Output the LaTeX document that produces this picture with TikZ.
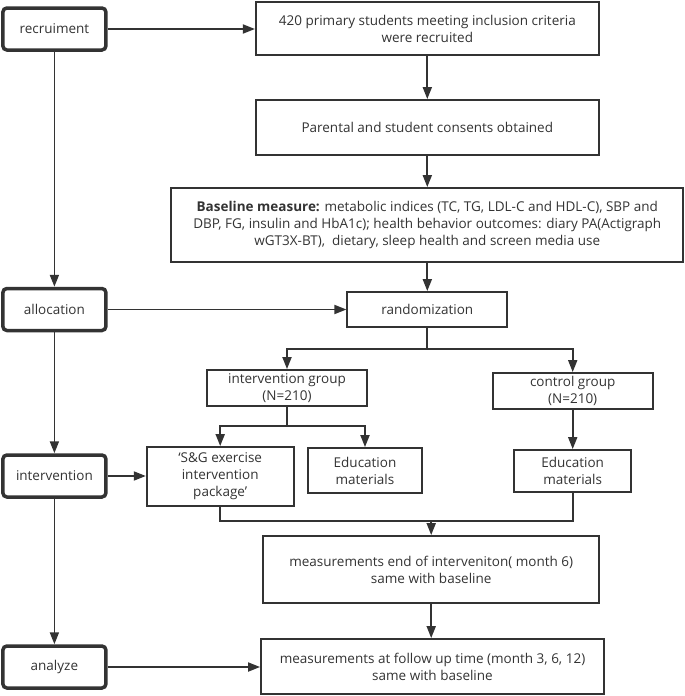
\documentclass[tikz,border=0pt]{standalone}
\usepackage{fontspec}
\setmainfont{Open Sans}
\usetikzlibrary{arrows.meta}
\definecolor{ink}{HTML}{333333}

\begin{document}
\begin{tikzpicture}[x=1pt, y=-1pt,
        every node/.style={text=ink, font=\fontsize{13.5}{17}\selectfont, align=center, inner sep=0pt},
        box/.style={draw=ink, line width=1.8pt},
        stage/.style={draw=ink, line width=3.5pt, rounded corners=4pt, minimum width=103pt, minimum height=42pt},
        arr/.style={draw=ink, line width=1.8pt, -{Triangle[length=12pt, width=9pt]}},
        line/.style={draw=ink, line width=1.8pt}]
    \useasboundingbox (0,0) rectangle (685,696);

    % stages on the left
    \node[stage] (rec) at (54.4,29) {recruiment};
    \node[stage] (alloc) at (54.4,309.5) {allocation};
    \node[stage] (intv) at (54.4,476) {intervention};
    \node[stage] (anlz) at (54.4,667) {analyze};

    % main flow
    \node[box, minimum width=343pt, minimum height=53pt] (r420) at (427.3,28.5) {420 primary students meeting inclusion criteria\\were recruited};
    \node[box, minimum width=343pt, minimum height=55pt] (cons) at (427.3,127.5) {Parental and student consents obtained};
    \node[box, minimum width=512pt, minimum height=74pt] (base) at (427.3,225) {\textbf{Baseline measure:} metabolic indices (TC, TG, LDL-C and HDL-C), SBP and\\DBP, FG, insulin and HbA1c); health behavior outcomes: diary PA(Actigraph\\wGT3X-BT),\ \ dietary, sleep health and screen media use};
    \node[box, minimum width=160pt, minimum height=35pt] (rand) at (427.3,309.5) {randomization};
    \node[box, minimum width=160pt, minimum height=36pt] (igrp) at (287,388) {intervention group\\(N=210)};
    \node[box, minimum width=160pt, minimum height=36pt] (cgrp) at (572.7,391) {control group\\(N=210)};
    \node[box, minimum width=147pt, minimum height=59pt] (sg) at (220.2,476.5) {`S\&G exercise\\intervention\\package'};
    \node[box, minimum width=114pt, minimum height=45pt] (edu1) at (365,470.5) {Education\\materials};
    \node[box, minimum width=117pt, minimum height=42pt] (edu2) at (572.7,471) {Education\\materials};
    \node[box, minimum width=336pt, minimum height=67pt] (mend) at (431.2,569.5) {measurements end of interveniton( month 6)\\same with baseline};
    \node[box, minimum width=343pt, minimum height=55pt] (fup) at (432.5,666.5) {measurements at follow up time (month 3, 6, 12)\\same with baseline};

    \coordinate (split) at (427.3,349);
    \coordinate (isplit) at (287,426);
    \coordinate (merge) at (431.2,521);

    % left column
    \draw[arr] (rec) -- (alloc);
    \draw[arr] (alloc) -- (intv);
    \draw[arr] (intv) -- (anlz);
    \draw[arr] (rec.east) -- (rec.east -| r420.west);
    \draw[arr] (alloc.east) -- (alloc.east -| rand.west);
    \draw[arr] (intv.east) -- (intv.east -| sg.west);
    \draw[arr] (anlz.east) -- (anlz.east -| fup.west);

    % right column
    \draw[arr] (r420) -- (cons);
    \draw[arr] (cons) -- (base);
    \draw[arr] (base) -- (rand);
    \draw[line] (rand.south) -- (split);
    \draw[arr] (split) -| (igrp.north);
    \draw[arr] (split) -| (cgrp.north);
    \draw[line] (igrp.south) -- (isplit);
    \draw[arr] (isplit) -| (sg.north);
    \draw[arr] (isplit) -| (edu1.north);
    \draw[arr] (cgrp) -- (edu2);
    \draw[line] (sg.south) |- (merge) -| (edu2.south);
    \draw[arr] (merge) -- (mend.north);
    \draw[arr] (mend.south) -- (mend.south |- fup.north);
\end{tikzpicture}
\end{document}
